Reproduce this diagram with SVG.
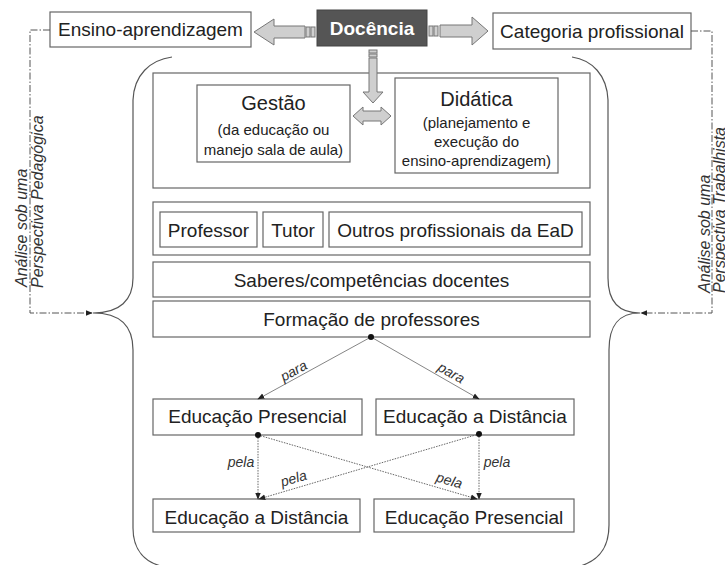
<svg xmlns="http://www.w3.org/2000/svg" width="725" height="565" viewBox="0 0 725 565">
<style>
text{font-family:"Liberation Sans",Arial,sans-serif;fill:#222}
.box{fill:#fff;stroke:#666;stroke-width:1.2}
.t19{font-size:19px;text-anchor:middle}
.t20{font-size:20px;text-anchor:middle}
.t15{font-size:15px;text-anchor:middle}
.lab{font-size:14px;font-style:italic;text-anchor:middle;fill:#333}
.side{font-size:16px;font-style:italic;fill:#333}
.big{fill:#cfcfcf;stroke:#777;stroke-width:1}
.brace{fill:none;stroke:#555;stroke-width:1.2}
.dd{fill:none;stroke:#555;stroke-width:1;stroke-dasharray:7 2 1.5 2}
.ln{fill:none;stroke:#777;stroke-width:0.9}
.dot{fill:none;stroke:#666;stroke-width:1;stroke-dasharray:1.5 1.2}
</style>
<defs>
<marker id="ah" viewBox="0 0 10 10" refX="9" refY="5" markerWidth="7" markerHeight="7" orient="auto" markerUnits="userSpaceOnUse">
<path d="M0,1 L10,5 L0,9 Z" fill="#222"/>
</marker>
</defs>

<g id="braces">
<path class="brace" d="M172,57 C150,60 134,75 133,100 L133,278 C133,300 120,313 93,313 C120,313 133,326 133,350 L133,528 C133,550 145,563 165,567"/>
<path class="brace" d="M572,57 C592,60 607,75 608,100 L608,278 C608,300 618,313 640,313 C618,313 609,326 609,350 L609,525 C609,550 597,562 577,567"/>
</g>

<g id="ensino">
<rect class="box" x="50" y="12" width="201" height="35"/>
<text class="t19" x="150.5" y="36">Ensino-aprendizagem</text>
</g>
<g id="docencia">
<rect x="317" y="10" width="110" height="36" fill="#555" stroke="#444"/>
<text x="372" y="35" style="font-size:19px;font-weight:bold;text-anchor:middle;fill:#fff">Docência</text>
</g>
<g id="categoria">
<rect class="box" x="493" y="13" width="198" height="36"/>
<text class="t19" x="592" y="38">Categoria profissional</text>
</g>

<g id="painel-topo">
<rect class="box" x="153" y="73" width="437" height="115"/>
</g>
<g id="gestao">
<rect class="box" x="197" y="85" width="153" height="77"/>
<text class="t20" x="273.5" y="110">Gestão</text>
<text class="t15" x="273.5" y="135">(da educação ou</text>
<text class="t15" x="273.5" y="155">manejo sala de aula)</text>
</g>
<g id="didatica">
<rect class="box" x="395" y="78" width="163" height="95"/>
<text class="t20" x="476.5" y="106">Didática</text>
<text class="t15" x="476.5" y="128">(planejamento e</text>
<text class="t15" x="476.5" y="147">execução do</text>
<text class="t15" x="476.5" y="166">ensino-aprendizagem)</text>
</g>

<g id="bigarrows">
<polygon class="big" points="254,32 274,19 274,26 305,26 305,38 274,38 274,45"/>
<rect class="big" x="306" y="27" width="4" height="10"/>
<rect class="big" x="311" y="27" width="4" height="10"/>
<rect class="big" x="429" y="26" width="4" height="10"/>
<rect class="big" x="434" y="26" width="4" height="10"/>
<polygon class="big" points="440,25 472,25 472,17 488,31 472,45 472,37 440,37"/>
<rect class="big" x="369" y="50" width="8" height="3"/>
<rect class="big" x="369" y="54" width="8" height="3"/>
<polygon class="big" points="369,58 377,58 377,92 383,92 373,103 363,92 369,92"/>
<polygon class="big" points="353,116 363,107 363,111 381,111 381,107 391,116 381,125 381,121 363,121 363,125"/>
</g>

<g id="painel-profissionais">
<rect class="box" x="153" y="202" width="437" height="53"/>
</g>
<g id="professor">
<rect class="box" x="160" y="212" width="97" height="35"/>
<text class="t19" x="208.5" y="237">Professor</text>
</g>
<g id="tutor">
<rect class="box" x="263" y="212" width="60" height="35"/>
<text class="t19" x="293" y="237">Tutor</text>
</g>
<g id="outros">
<rect class="box" x="329" y="212" width="253" height="35"/>
<text class="t19" x="455.5" y="237">Outros profissionais da EaD</text>
</g>
<g id="saberes">
<rect class="box" x="153" y="262" width="437" height="35"/>
<text class="t19" x="371.5" y="287">Saberes/competências docentes</text>
</g>
<g id="formacao">
<rect class="box" x="153" y="301" width="437" height="36"/>
<text class="t19" x="371.5" y="326">Formação de professores</text>
</g>
<g id="ed-presencial-1">
<rect class="box" x="153" y="399" width="209" height="36"/>
<text class="t19" x="257.5" y="423">Educação Presencial</text>
</g>
<g id="ed-distancia-1">
<rect class="box" x="376" y="399" width="198" height="36"/>
<text class="t19" x="475" y="423">Educação a Distância</text>
</g>
<g id="ed-distancia-2">
<rect class="box" x="153" y="499" width="207" height="33"/>
<text class="t19" x="256.5" y="524">Educação a Distância</text>
</g>
<g id="ed-presencial-2">
<rect class="box" x="374" y="499" width="200" height="33"/>
<text class="t19" x="474" y="524">Educação Presencial</text>
</g>

<g id="connectors">
<path class="dd" d="M50,30 L30,30 L30,313 L92,313" marker-end="url(#ah)"/>
<path class="dd" d="M691,31 L712,31 L712,313 L641,313" marker-end="url(#ah)"/>
<line class="ln" x1="371" y1="337" x2="258" y2="399" marker-end="url(#ah)"/>
<line class="ln" x1="371" y1="337" x2="479" y2="399" marker-end="url(#ah)"/>
<line class="dot" x1="258" y1="435" x2="258" y2="499" marker-end="url(#ah)"/>
<line class="dot" x1="258" y1="435" x2="477" y2="499" marker-end="url(#ah)"/>
<line class="dot" x1="479" y1="434" x2="479" y2="499" marker-end="url(#ah)"/>
<line class="dot" x1="479" y1="434" x2="259" y2="499" marker-end="url(#ah)"/>
<circle cx="371" cy="337" r="3" fill="#111"/>
<circle cx="258" cy="435" r="3" fill="#111"/>
<circle cx="479" cy="434" r="3" fill="#111"/>
<text class="lab" transform="translate(296,375) rotate(-28.7)">para</text>
<text class="lab" transform="translate(449,377) rotate(29.8)">para</text>
<text class="lab" x="241" y="467">pela</text>
<text class="lab" x="497" y="467">pela</text>
<text class="lab" transform="translate(295,483) rotate(-16.4)">pela</text>
<text class="lab" transform="translate(448,485) rotate(16.1)">pela</text>
</g>

<g id="side-labels">
<text class="side" transform="translate(27,287) rotate(-90)">Análise sob uma</text>
<text class="side" transform="translate(43,288) rotate(-90)">Perspectiva Pedagógica</text>
<text class="side" transform="translate(710,293) rotate(-90)">Análise sob uma</text>
<text class="side" transform="translate(725,293) rotate(-90)">Perspectiva Trabalhista</text>
</g>
</svg>
